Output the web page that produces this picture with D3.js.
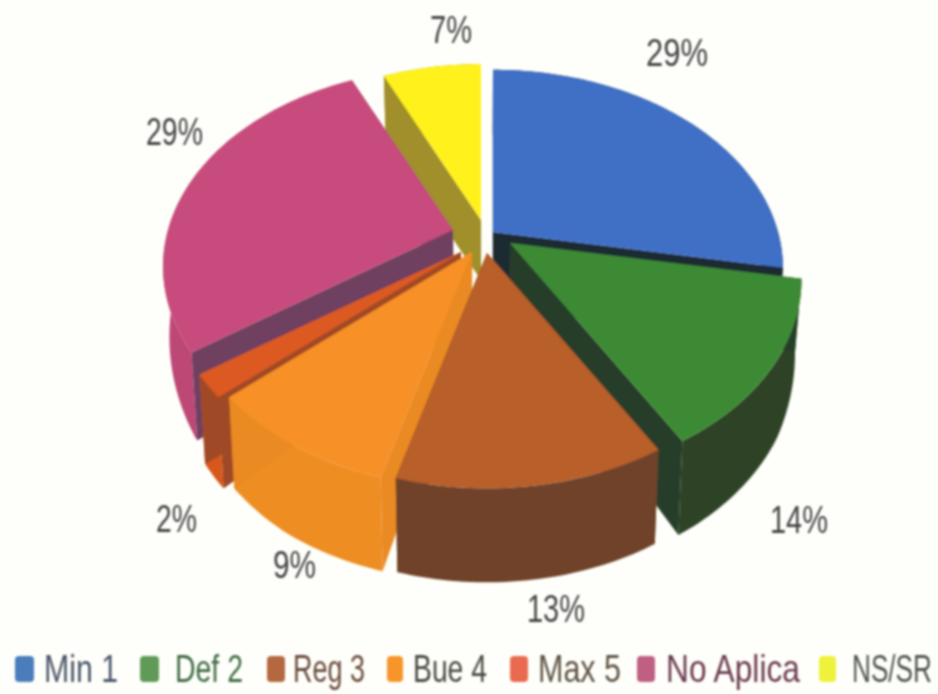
<!DOCTYPE html>
<html>
<head>
<meta charset="utf-8">
<script src="https://cdn.jsdelivr.net/npm/d3@7"></script>
<style>
html,body{margin:0;padding:0;background:#fefffa;}
svg{display:block;}
text{font-family:"Liberation Sans","Open Sans",sans-serif;}
</style>
</head>
<body>
<svg id="c" width="938" height="694"></svg>
<script>
// ---- data ----
const categories = ["Min 1","Def 2","Reg 3","Bue 4","Max 5","No Aplica","NS/SR"];
const shares     = [27.9,13.7,12.7,9.2,1.9,27.9,6.8];
const percentLabels = ["29%","14%","13%","9%","2%","29%","7%"];

// ---- styles / layout ----
const topColors  = ["#3f6fc6","#3e8a35","#b85f2c","#f79025","#dc5a22","#c74c7b","#fff21f"];
const outerColors= ["#1f2a33","#2e4227","#6f4329","#ee8d22","#d8581f","#bd4675","#a08f2c"];
const cutColors  = ["#1f2a33","#263c2b","#6f4329","#ea8a20","#a04a25","#6f3f60","#a08f2c"];
const legendSwatch=["#4b7dbd","#5f9a58","#b5683f","#f7952c","#ea6a4f","#bf5f82","#eef23a"];
const legendText = ["#4a5568","#3f6b45","#6b4a3c","#4a4a40","#5f5244","#6a3a50","#4f5550"];
const apexX = [493,510,487,472,461,453,481];
const apexY = [232,243,253,252,252,230,220];
const radiusFactor = [1,1.005,1,1,1,1,0.955];
const drawOrder = [0,6,5,1,4,3,2];
const labelX = [646,770,527,273,156,146,430];
const labelW = [ 62, 58, 58, 43, 41, 57, 42];
const labelY = [ 66,533,622,578,532,145, 43];
const swatchX= [15,140,267,387,510,637,819];
const swatchW= [19,19,18,16,18,18,17];
const legendX= [44,175,293,413,538,666,852];
const legendW= [74,68,72,74,83,134,80];

const R = 285, A = 192, persp = 0.184;
const pie = d3.pie().sort(null).value(d=>d)(shares);
const depth = d3.scaleLinear().domain([50,220,350,440]).range([66,60,88,94]).clamp(true);
const project = (a,i)=>{
  const r = radiusFactor[i];
  const u = Math.sin(a)*r, v = -Math.cos(a)*r;
  const s = 1/(1-persp*v);
  return [apexX[i]+R*u*s, apexY[i]+A*v*s];
};
const drop = ([x,y])=>[x+(480-x)*0.02, y+depth(y)];
const line = d3.line();
const svg = d3.select("#c");
const defs = svg.append("defs");
defs.append("filter").attr("id","b1").attr("x","-5%").attr("y","-5%").attr("width","110%").attr("height","110%")
  .append("feGaussianBlur").attr("stdDeviation",0.8);
defs.append("filter").attr("id","b2").attr("x","-5%").attr("y","-5%").attr("width","110%").attr("height","120%")
  .append("feGaussianBlur").attr("stdDeviation",0.9);
const g = svg.append("g").attr("filter","url(#b1)");

drawOrder.forEach(i=>{
  const d = pie[i];
  const n = Math.max(4,Math.ceil((d.endAngle-d.startAngle)/0.02));
  const arc = d3.range(n+1).map(k=>project(d.startAngle+(d.endAngle-d.startAngle)*k/n,i));
  const apex = [apexX[i],apexY[i]];
  const first = arc[0], last = arc[arc.length-1];
  const s = g.append("g").attr("class","slice");
  s.append("path").attr("d",line(arc.concat(arc.map(drop).reverse()))+"Z").attr("fill",outerColors[i]);
  [first,last].forEach(p=>{
    s.append("path").attr("d",line([apex,p,drop(p),drop(apex)])+"Z").attr("fill",cutColors[i]);
  });
  s.append("path").attr("d",line([apex].concat(arc))+"Z").attr("fill",topColors[i]);
});

// squeeze a text to its measured width (the original face is condensed)
function squeeze(sel,xs,ws,ys){
  sel.each(function(d,i){
    const len = this.getComputedTextLength();
    const y = typeof ys==="number"?ys:ys[i];
    d3.select(this).attr("transform",`translate(${xs[i]},${y}) scale(${ws[i]/len},1)`);
  });
}
const lg = svg.append("g").attr("filter","url(#b2)");
lg.selectAll("text.p").data(percentLabels).join("text").attr("class","p")
  .attr("font-size",38).attr("fill","#444").text(d=>d)
  .call(squeeze,labelX,labelW,labelY);

// legend
lg.selectAll("rect.s").data(categories).join("rect").attr("class","s")
  .attr("x",(d,i)=>swatchX[i]).attr("y",656).attr("width",(d,i)=>swatchW[i]).attr("height",26).attr("rx",4)
  .attr("fill",(d,i)=>legendSwatch[i]);
lg.selectAll("text.l").data(categories).join("text").attr("class","l")
  .attr("font-size",38).attr("fill",(d,i)=>legendText[i]).text(d=>d)
  .call(squeeze,legendX,legendW,682);
</script>
</body>
</html>
